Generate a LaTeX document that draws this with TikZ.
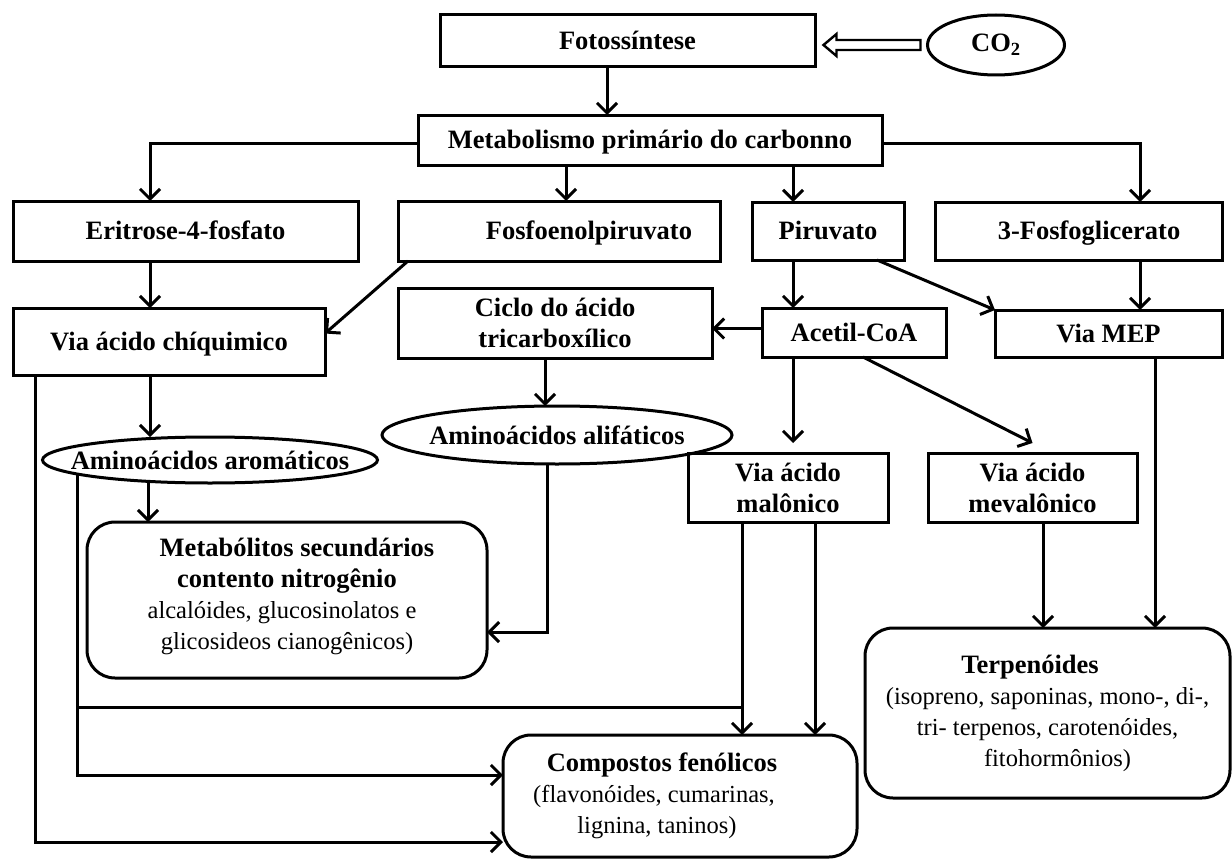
\documentclass[tikz,border=0pt]{standalone}
\usepackage{fontspec}
\setmainfont{Liberation Serif}
\usetikzlibrary{arrows.meta,shapes.geometric}
\newcommand\txtn{\normalfont\fontsize{24.5}{29}\selectfont}
\begin{document}
\begin{tikzpicture}[x=1pt,y=-1pt,
  every node/.style={inner sep=0pt, outer sep=0pt},
  box/.style={draw, line width=3pt, align=center, font=\bfseries\fontsize{26.5}{31}\selectfont},
  one/.style={text height=23pt, text depth=6pt},
  rbox/.style={box, rounded corners=28pt},
  oval/.style={ellipse, draw, line width=3pt, font=\bfseries\fontsize{26.5}{31}\selectfont},
  arr/.style={line width=3pt, -{Straight Barb[length=10pt,width=20pt]}},
  ln/.style={line width=3pt}]
\useasboundingbox (0,0) rectangle (1232,859);

% nodes
\node[box, one, minimum width=375, minimum height=52] (foto) at (627.5,41) {Fotossíntese};
\node[oval, minimum width=137, minimum height=60] (co2) at (996,45) {\makebox[0pt]{CO\textsubscript{2}}};
\node[box, one, minimum width=464, minimum height=50] (meta) at (650,140) {Metabolismo primário do carbonno};
\node[box, one, minimum width=345, minimum height=60] (eri) at (185.5,231) {Eritrose-4-fosfato};
\node[box, one, minimum width=322, minimum height=60] (fosfo) at (559,231) {\rule{60pt}{0pt}Fosfoenolpiruvato};
\node[box, one, minimum width=152, minimum height=58] (piru) at (828,231) {Piruvato};
\node[box, one, minimum width=287, minimum height=58] (tres) at (1078.5,231) {\rule{21pt}{0pt}3-Fosfoglicerato};
\node[box, one, minimum width=312, minimum height=67] (chiq) at (169,341.5) {Via ácido chíquimico};
\node[box, minimum width=314, minimum height=70] (ciclo) at (555,323) {Ciclo do ácido\\tricarboxílico};
\node[box, one, minimum width=184, minimum height=49] (acetil) at (854,332.5) {Acetil-CoA};
\node[box, one, minimum width=227, minimum height=47] (mep) at (1108.5,333.5) {Via MEP};
\node[oval, minimum width=335, minimum height=46] (arom) at (210,460) {\makebox[0pt]{Aminoácidos aromáticos}};
\node[oval, minimum width=350, minimum height=58] (alif) at (557,435) {\makebox[0pt]{Aminoácidos alifáticos}};
\node[box, minimum width=200, minimum height=69] (malo) at (788,487.5) {Via ácido\\malônico};
\node[box, minimum width=209, minimum height=69] (meva) at (1032.5,487.5) {Via ácido\\mevalônico};
\node[rbox, minimum width=400, minimum height=156] (metab) at (287,600)
  {\rule{20pt}{0pt}Metabólitos secundários\\
   contento nitrogênio\\
   {\txtn alcalóides, glucosinolatos e}\rule{10pt}{0pt}\\
   {\txtn glicosideos cianogênicos)}\\[-18pt]\rule{0pt}{0pt}};
\node[rbox, minimum width=365, minimum height=170] (terp) at (1047.5,713)
  {Terpenóides\rule{35pt}{0pt}\\
   {\txtn (isopreno, saponinas, mono-, di-,}\\
   {\txtn tri- terpenos, carotenóides,}\\
   \rule{20pt}{0pt}{\txtn fitohormônios)}};
\node[rbox, minimum width=354, minimum height=122] (comp) at (680,796)
  {Compostos fenólicos\rule{36pt}{0pt}\\
   {\txtn (flavonóides, cumarinas,}\rule{52pt}{0pt}\\
   {\txtn lignina, taninos)}\rule{46pt}{0pt}};

% hollow arrow CO2 -> Fotossintese
\draw[line width=2.4pt, line join=miter] ([xshift=-7pt,yshift=5pt]co2.west) -- ++(-84,0) -- ++(0,-6)
  -- ++(-13,11) -- ++(13,11) -- ++(0,-6) -- ++(84,0) -- cycle;

% connectors
\draw[arr] (foto.south -| 607,0) -- (meta.north -| 607,0);
\draw[arr] ([yshift=-3pt]meta.west) -| (eri.north -| 150,0);
\draw[arr] (meta.south -| 566,0) -- (fosfo.north -| 566,0);
\draw[arr] (meta.south -| 793,0) -- (piru.north -| 793,0);
\draw[arr] ([yshift=-3pt]meta.east) -| (tres.north -| 1140,0);
\draw[arr] (eri.south -| 150,0) -- (chiq.north -| 150,0);
\draw[arr] ([xshift=10pt]fosfo.south west) -- ([yshift=8pt]chiq.east);
\draw[arr] (piru.south -| 793,0) -- (acetil.north -| 793,0);
\draw[arr] ([xshift=-27pt]piru.south east) -- (mep.north west);
\draw[arr] (tres.south -| 1140,0) -- (mep.north -| 1140,0);
\draw[arr] ([yshift=4pt]acetil.west) -- ([yshift=4pt]acetil.west -| ciclo.east);
\draw[arr, shorten >=10pt] (acetil.south -| 793,0) -- (malo.north -| 793,0);
\draw[arr] ([xshift=9pt]acetil.south) -- ([yshift=10pt]meva.north);
\draw[arr] (chiq.south -| 150,0) -- (arom.north -| 150,0);
\draw[arr] (ciclo.south -| 545,0) -- (alif.north -| 545,0);
\draw[arr] (arom.south -| 148,0) -- (metab.north -| 148,0);
\draw[arr] (alif.south -| 547,0) |- (metab.east |- 0,632);
\draw[arr] (chiq.south -| 35,0) |- (comp.west |- 0,842);
\coordinate (aromL) at (77,474);
\draw[arr] (aromL) |- (comp.west |- 0,775);
\coordinate (jL) at (77,707);
\coordinate (jR) at (742,707);
\draw[ln] (jL) -- (jR);
\draw[arr] (malo.south -| 742,0) -- (comp.north -| 742,0);
\draw[arr] (malo.south -| 815,0) -- (comp.north -| 815,0);
\draw[arr] (meva.south -| 1043,0) -- (terp.north -| 1043,0);
\draw[arr] (mep.south -| 1155,0) -- (terp.north -| 1155,0);
\end{tikzpicture}
\end{document}
